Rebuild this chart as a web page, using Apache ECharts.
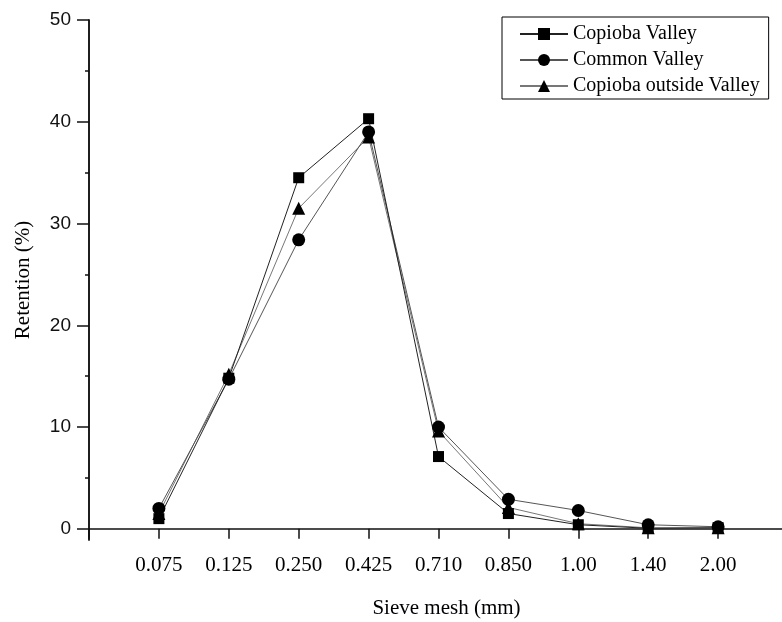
<!DOCTYPE html>
<html>
<head>
<meta charset="utf-8">
<script src="https://cdn.jsdelivr.net/npm/echarts@6/dist/echarts.min.js"></script>
<style>
  html, body { margin: 0; padding: 0; background: #fff; }
  #chart { width: 782px; height: 622px; }
</style>
</head>
<body>
<div id="chart"></div>
<script>
var meshLabels = ['0.075', '0.125', '0.250', '0.425', '0.710', '0.850', '1.00', '1.40', '2.00'];
var copiobaValley = [1.0, 14.8, 34.5, 40.3, 7.1, 1.5, 0.4, 0.05, 0.1];
var commonValley = [2.0, 14.7, 28.4, 39.0, 10.0, 2.9, 1.8, 0.4, 0.2];
var copiobaOutside = [1.5, 15.2, 31.5, 38.5, 9.6, 2.1, 0.5, 0.1, 0.1];
var majorTicks = [0, 10, 20, 30, 40, 50];
var minorTicks = [5, 15, 25, 35, 45];

function toPoints(arr) {
    return arr.map(function (v, i) { return [i + 1, v]; });
}

var serif = 'Liberation Serif';
var myChart = echarts.init(document.getElementById('chart'));
myChart.setOption({
    animation: false,
    backgroundColor: '#fff',
    grid: { left: 89, top: 20, right: -6, bottom: 82, outerBoundsMode: 'none' },
    legend: {
        orient: 'vertical',
        left: 502,
        top: 17,
        borderColor: '#000',
        borderWidth: 1,
        padding: [7, 9, 3, 17],
        itemGap: 6,
        itemWidth: 48,
        itemHeight: 15,
        textStyle: { fontFamily: serif, fontSize: 20, color: '#000' },
        data: ['Copioba Valley', 'Common Valley', 'Copioba outside Valley']
    },
    xAxis: {
        type: 'value',
        min: 0,
        max: 10,
        interval: 1,
        name: 'Sieve mesh (mm)',
        nameLocation: 'middle',
        nameGap: 58,
        nameTextStyle: { fontFamily: serif, fontSize: 21, color: '#000', padding: [0, 0, 0, 16] },
        splitLine: { show: false },
        axisLine: { lineStyle: { color: '#111', width: 1.5 } },
        axisTick: { length: 10, lineStyle: { color: '#111', width: 1.5 } },
        axisLabel: {
            margin: 15,
            fontFamily: serif,
            fontSize: 21,
            color: '#000',
            formatter: function (v) { return meshLabels[v - 1] || ''; }
        }
    },
    yAxis: [
        {
            type: 'value',
            min: -1.1,
            max: 50,
            name: 'Retention (%)',
            nameLocation: 'middle',
            nameGap: 55,
            nameTextStyle: { fontFamily: serif, fontSize: 21, color: '#000' },
            splitLine: { show: false },
            axisLine: { show: true, lineStyle: { color: '#111', width: 1.5 } },
            axisTick: { length: 12, customValues: majorTicks, lineStyle: { color: '#111', width: 1.5 } },
            axisLabel: {
                margin: 18,
                customValues: majorTicks,
                fontFamily: 'Liberation Sans',
                fontSize: 19,
                color: '#111'
            }
        },
        {
            type: 'value',
            min: -1.1,
            max: 50,
            position: 'left',
            splitLine: { show: false },
            axisLine: { show: true, lineStyle: { color: '#111', width: 1.5 } },
            axisTick: { length: 4, customValues: minorTicks, lineStyle: { color: '#111', width: 1.5 } },
            axisLabel: { show: false }
        }
    ],
    series: [
        {
            name: 'Copioba outside Valley',
            type: 'line',
            symbol: 'triangle',
            symbolSize: 13,
            itemStyle: { color: '#000' },
            lineStyle: { color: '#777', width: 1 },
            emphasis: { disabled: true },
            data: toPoints(copiobaOutside)
        },
        {
            name: 'Common Valley',
            type: 'line',
            symbol: 'circle',
            symbolSize: 13,
            itemStyle: { color: '#000' },
            lineStyle: { color: '#555', width: 1 },
            emphasis: { disabled: true },
            data: toPoints(commonValley)
        },
        {
            name: 'Copioba Valley',
            type: 'line',
            symbol: 'rect',
            symbolSize: 11,
            itemStyle: { color: '#000' },
            lineStyle: { color: '#222', width: 1 },
            emphasis: { disabled: true },
            data: toPoints(copiobaValley)
        }
    ]
});
</script>
</body>
</html>
